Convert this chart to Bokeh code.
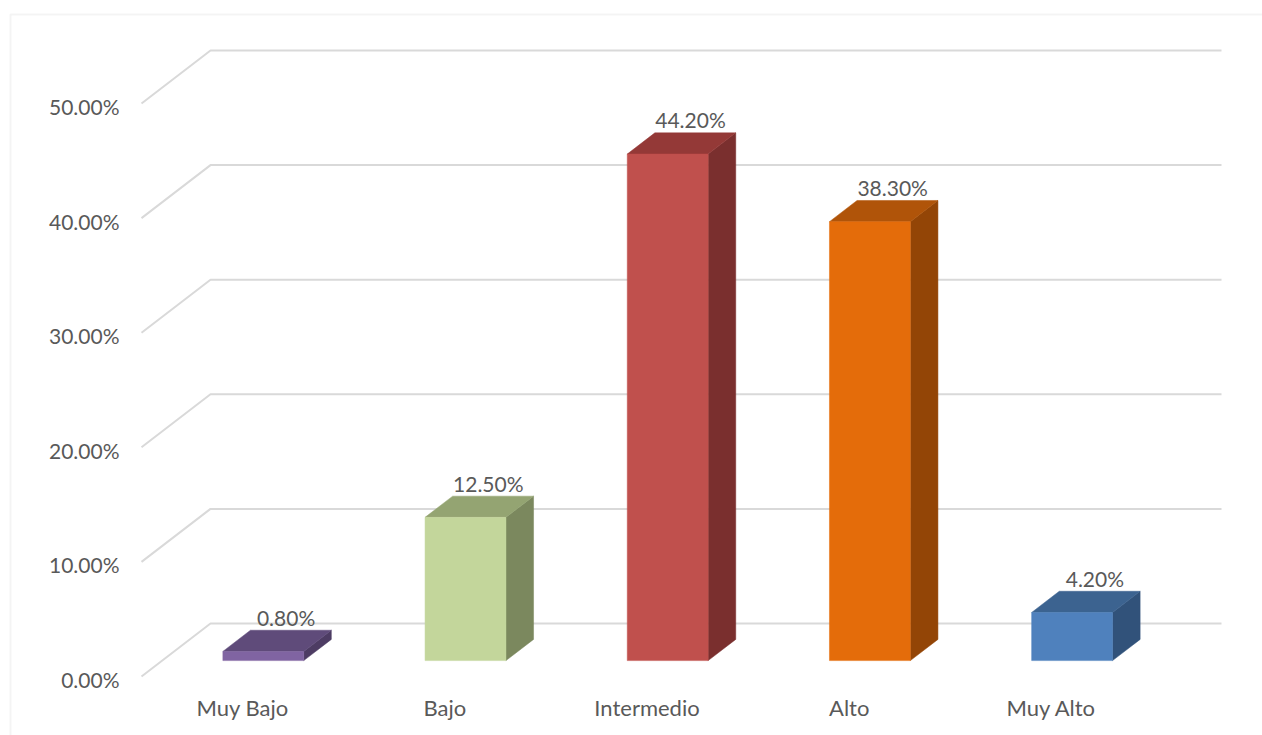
from bokeh.plotting import figure
from bokeh.models import ColumnDataSource, Range1d, BoxAnnotation
from bokeh.core.properties import value
from bokeh.embed import file_html
from bokeh.resources import INLINE

# ---- data ----
categories = ["Muy Bajo", "Bajo", "Intermedio", "Alto", "Muy Alto"]
percentages = [0.8, 12.5, 44.2, 38.3, 4.2]
y_ticks = [0, 10, 20, 30, 40, 50]
front_colors = ["#8064A2", "#C3D69B", "#C0504D", "#E46C0A", "#4F81BD"]
top_colors = ["#5F4B7A", "#94A472", "#943937", "#B05409", "#3C6390"]
side_colors = ["#4D3C63", "#7B885E", "#7A2F2E", "#934506", "#31527A"]

# ---- layout (pixel geometry of the pseudo-3D plot) ----
W, H = 1262, 735
FRONT_LEFT_PX = 141.0      # pixel x of category 0 on front plane
CAT_PX = 202.2             # pixels per category
ZERO_PX = 676.0            # pixel y (from top) of 0% on front plane
PCT_PX = 11.46             # pixels per percent
DEPTH_X_PX, DEPTH_Y_PX = 69.0, 53.0
DX = DEPTH_X_PX / CAT_PX   # depth offset in category units
DY = DEPTH_Y_PX / PCT_PX   # depth offset in percent units
BAR_D0, BAR_D1 = 0.3, 0.7  # bar depth extent
BAR_W = 0.4                # bar width in category units

TEXT = "#595959"
GRID = "#D9D9D9"
FONT = "Lato"

x_range = Range1d(-FRONT_LEFT_PX / CAT_PX, (W - FRONT_LEFT_PX) / CAT_PX)
y_range = Range1d((ZERO_PX - H) / PCT_PX, ZERO_PX / PCT_PX)

p = figure(width=W, height=H, x_range=x_range, y_range=y_range,
           x_axis_type=None, y_axis_type=None, toolbar_location=None,
           output_backend="svg", min_border=0, outline_line_color=None,
           background_fill_color="white", border_fill_color="white")
p.grid.visible = False

# outer chart border
p.add_layout(BoxAnnotation(left=10, right=W + 50, top=14, bottom=H + 50,
                           left_units="canvas", right_units="canvas",
                           top_units="canvas", bottom_units="canvas",
                           fill_color=None, line_color=GRID, line_width=2))

# ---- gridlines: side-wall diagonal + back-wall horizontal ----
n = len(categories)
gx, gy = [], []
for t in y_ticks:
    gx.append([0, DX, n + DX])
    gy.append([t, t + DY, t + DY])
p.multi_line(gx, gy, line_color=GRID, line_width=2)

# ---- bars ----
fx, fy, tx, ty, sx, sy = [], [], [], [], [], []
for i, v in enumerate(percentages):
    xl = i + 0.5 - BAR_W / 2
    xr = i + 0.5 + BAR_W / 2
    ox0, oy0 = BAR_D0 * DX, BAR_D0 * DY
    ox1, oy1 = BAR_D1 * DX, BAR_D1 * DY
    # front face
    fx.append([xl + ox0, xr + ox0, xr + ox0, xl + ox0])
    fy.append([oy0, oy0, v + oy0, v + oy0])
    # top face
    tx.append([xl + ox0, xr + ox0, xr + ox1, xl + ox1])
    ty.append([v + oy0, v + oy0, v + oy1, v + oy1])
    # right side face
    sx.append([xr + ox0, xr + ox1, xr + ox1, xr + ox0])
    sy.append([oy0, oy1, v + oy1, v + oy0])

p.patches(sx, sy, fill_color=side_colors, line_color=side_colors, line_width=0.5)
p.patches(tx, ty, fill_color=top_colors, line_color=top_colors, line_width=0.5)
p.patches(fx, fy, fill_color=front_colors, line_color=front_colors, line_width=0.5)

# ---- value labels ----
LABEL_D = 0.63
lab_src = ColumnDataSource(dict(
    x=[i + 0.5 + LABEL_D * DX for i in range(n)],
    y=[v + BAR_D1 * DY for v in percentages],
    t=[f"{v:.2f}%" for v in percentages]))
p.text(x="x", y="y", text="t", source=lab_src, text_align="center",
       text_baseline="alphabetic", y_offset=-13, text_color=TEXT,
       text_font=value(FONT), text_font_size="21px")

# ---- y tick labels (front plane) ----
tick_src = ColumnDataSource(dict(x=[0] * len(y_ticks), y=y_ticks,
                                 t=[f"{t:.2f}%" for t in y_ticks]))
p.text(x="x", y="y", text="t", source=tick_src, text_align="right",
       text_baseline="middle", x_offset=-22, y_offset=3, text_color=TEXT,
       text_font=value(FONT), text_font_size="21px")

# ---- category labels ----
cat_src = ColumnDataSource(dict(x=[i + 0.5 for i in range(n)], y=[0] * n,
                                t=categories))
p.text(x="x", y="y", text="t", source=cat_src, text_align="center",
       text_baseline="alphabetic", y_offset=31, text_color=TEXT,
       text_font=value(FONT), text_font_size="22px")

open("out.html", "w").write(file_html(p, INLINE))
